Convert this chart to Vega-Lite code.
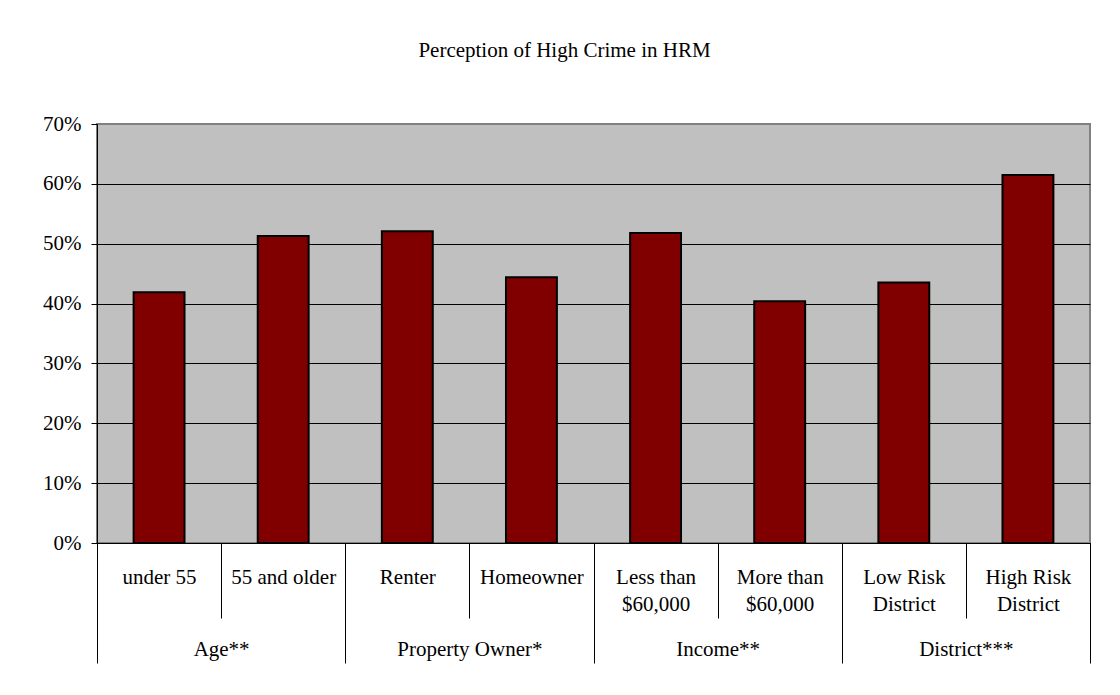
{
  "$schema": "https://vega.github.io/schema/vega-lite/v6.json",
  "autosize": {"type": "none"},
  "padding": {"left": 97, "top": 124, "right": 30, "bottom": 152},
  "width": 993,
  "height": 419,
  "background": "white",
  "title": {
    "text": "Perception of High Crime in HRM",
    "font": "Liberation Serif",
    "fontSize": 21,
    "fontWeight": "normal",
    "color": "black",
    "anchor": "middle",
    "frame": "group",
    "dx": -29,
    "offset": 52
  },
  "data": {
    "values": [
      {"label": "under 55", "group": "Age**", "value": 0.419},
      {"label": "55 and older", "group": "Age**", "value": 0.513},
      {"label": "Renter", "group": "Property Owner*", "value": 0.521},
      {"label": "Homeowner", "group": "Property Owner*", "value": 0.444},
      {"label": "Less than|$60,000", "group": "Income**", "value": 0.518},
      {"label": "More than|$60,000", "group": "Income**", "value": 0.404},
      {"label": "Low Risk|District", "group": "District***", "value": 0.435},
      {"label": "High Risk|District", "group": "District***", "value": 0.615}
    ]
  },
  "layer": [
    {
      "mark": {"type": "bar", "fill": "#800000", "stroke": "black", "strokeWidth": 2, "width": {"band": 0.41}},
      "encoding": {
        "x": {
          "field": "label",
          "type": "nominal",
          "sort": null,
          "scale": {"paddingInner": 0, "paddingOuter": 0},
          "axis": {
            "title": null,
            "labelAngle": 0,
            "labelExpr": "split(datum.label, '|')",
            "labelFont": "Liberation Serif",
            "labelFontSize": 21,
            "labelColor": "black",
            "labelLineHeight": 27,
            "labelBaseline": "alphabetic",
            "labelPadding": -35,
            "tickBand": "extent",
            "tickSize": 75,
            "tickColor": "black",
            "tickWidth": 1,
            "domainColor": "black",
            "domainWidth": 1,
            "labelOverlap": false,
            "labelBound": false,
            "labelFlush": false
          }
        },
        "y": {
          "field": "value",
          "type": "quantitative",
          "scale": {"domain": [0, 0.7], "nice": false},
          "axis": {
            "title": null,
            "values": [0, 0.1, 0.2, 0.3, 0.4, 0.5, 0.6, 0.7],
            "format": ".0%",
            "labelFont": "Liberation Serif",
            "labelFontSize": 21,
            "labelColor": "black",
            "labelPadding": 10,
            "tickSize": 6,
            "tickColor": "black",
            "domainColor": "black",
            "domainWidth": 1,
            "grid": true,
            "gridColor": {"condition": {"test": "datum.value >= 0.7", "value": "#808080"}, "value": "black"},
            "gridWidth": 1,
            "gridOpacity": 1
          }
        }
      }
    },
    {
      "mark": {"type": "bar", "opacity": 0},
      "encoding": {
        "x": {
          "field": "group",
          "type": "nominal",
          "sort": ["Age**", "Property Owner*", "Income**", "District***"],
          "scale": {"paddingInner": 0, "paddingOuter": 0},
          "axis": {
            "orient": "bottom",
            "title": null,
            "labelAngle": 0,
            "labelFont": "Liberation Serif",
            "labelFontSize": 21,
            "labelColor": "black",
            "labelBaseline": "alphabetic",
            "labelPadding": -8,
            "tickBand": "extent",
            "tickSize": 120,
            "tickColor": "black",
            "tickWidth": 1,
            "domain": false,
            "grid": false,
            "labelOverlap": false,
            "labelBound": false,
            "labelFlush": false
          }
        },
        "y": {"datum": 0}
      }
    }
  ],
  "resolve": {"scale": {"x": "independent"}, "axis": {"x": "independent"}},
  "config": {
    "view": {"fill": "#c0c0c0", "stroke": "#808080", "strokeWidth": 2},
    "axis": {"gridDash": []}
  }
}
